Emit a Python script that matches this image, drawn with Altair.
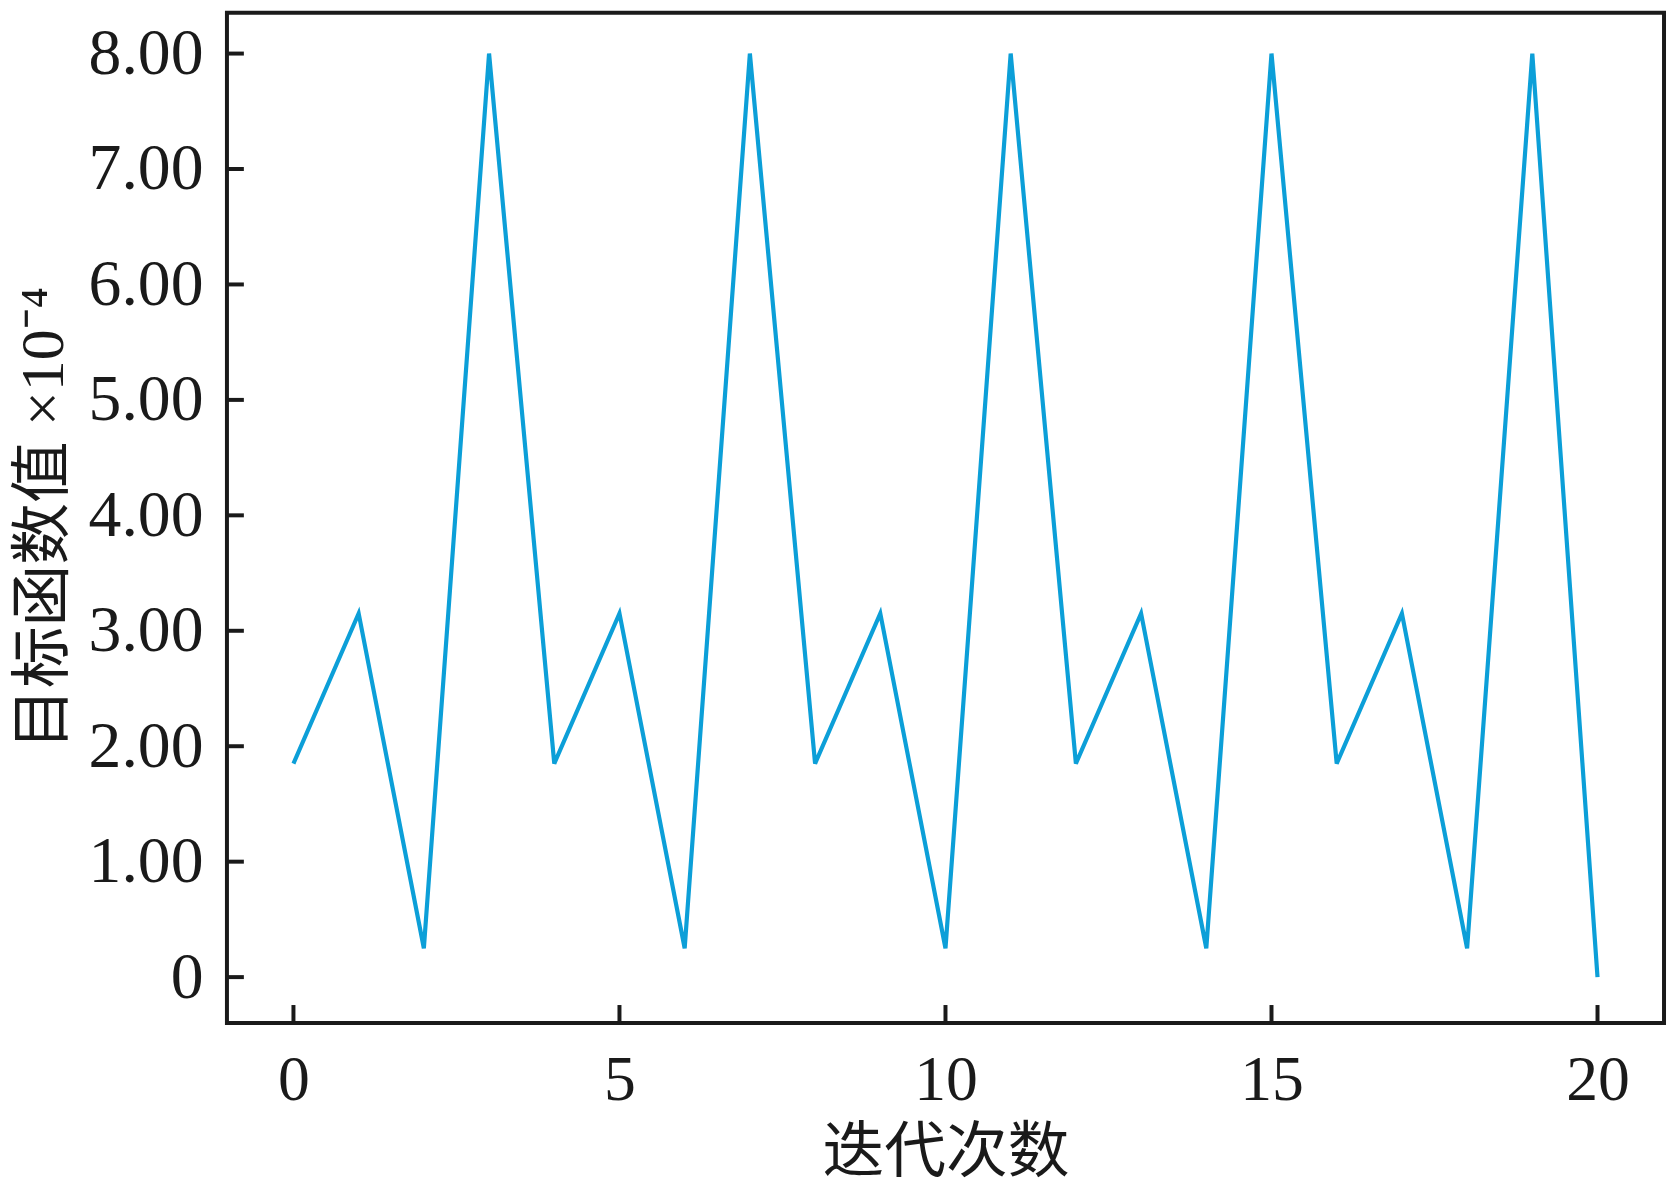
import altair as alt
import pandas as pd

iterations = list(range(21))
objective = [1.85, 3.15, 0.25, 8.00,
             1.85, 3.15, 0.25, 8.00,
             1.85, 3.15, 0.25, 8.00,
             1.85, 3.15, 0.25, 8.00,
             1.85, 3.15, 0.25, 8.00,
             0.00]
x_ticks = [0, 5, 10, 15, 20]
y_ticks = [0, 1, 2, 3, 4, 5, 6, 7, 8]

df = pd.DataFrame({"x": iterations, "y": objective})
xt = pd.DataFrame({"x": x_ticks})
yt = pd.DataFrame({"y": y_ticks})

W, H = 1444, 1015
FONT = "Liberation Serif, 'Noto Sans CJK SC'"
INK = "#1a1a1a"
xscale = alt.Scale(domain=[-1.02, 21.02], nice=False, zero=False)
yscale = alt.Scale(domain=[-0.397, 8.353], nice=False, zero=False)

line = alt.Chart(df).mark_line(color="#0c9fd8", strokeWidth=4.2).encode(
    x=alt.X("x:Q", scale=xscale,
            axis=alt.Axis(values=x_ticks, format="d", title="迭代次数", ticks=False, tickSize=0,
                          domain=False, grid=False, labelFont=FONT, labelFontSize=64,
                          labelColor=INK, labelPadding=26, titleFont=FONT,
                          titleFontSize=62, titleFontWeight="normal", titleColor=INK,
                          titleBaseline="top", titleY=100)),
    y=alt.Y("y:Q", scale=yscale,
            axis=alt.Axis(values=y_ticks, title="目标函数值 ×10⁻⁴", ticks=False, tickSize=0,
                          domain=False, grid=False, labelFont=FONT, labelFontSize=66,
                          labelColor=INK, labelPadding=24,
                          labelExpr="datum.value == 0 ? '0' : format(datum.value, '.2f')",
                          titleFont=FONT, titleFontSize=62, titleFontWeight="normal",
                          titleColor=INK, titleAngle=-90, titleBaseline="middle",
                          titleX=-184, titleAlign="center")),
)

xticks = alt.Chart(xt).mark_rule(color=INK, strokeWidth=4).encode(
    x=alt.X("x:Q", scale=xscale),
    y=alt.value(H), y2=alt.value(H - 18),
)
yticks = alt.Chart(yt).mark_rule(color=INK, strokeWidth=4).encode(
    y=alt.Y("y:Q", scale=yscale),
    x=alt.value(0), x2=alt.value(17),
)

chart = alt.layer(xticks, yticks, line).properties(
    width=W, height=H,
    background="white",
    autosize=alt.AutoSizeParams(type="none"),
    padding={"left": 220, "top": 2, "right": 4, "bottom": 160},
).configure_view(stroke=INK, strokeWidth=4)

chart.save("out.html", embed_options={"renderer": "svg", "actions": False})
